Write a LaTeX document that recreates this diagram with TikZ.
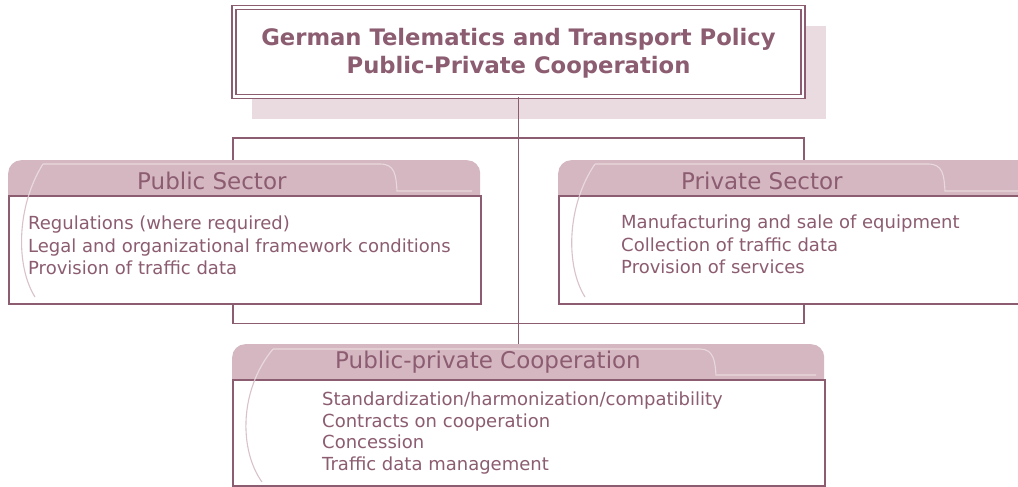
\documentclass[tikz,border=0pt]{standalone}
\usepackage{fontspec}
\setmainfont{DejaVu Sans}
\definecolor{mauve}{RGB}{140,92,112}
\definecolor{headfill}{RGB}{213,183,193}
\definecolor{shadowc}{RGB}{234,219,224}
\definecolor{swoosh}{RGB}{233,217,222}
\definecolor{arcc}{RGB}{218,194,202}
\tikzset{
  topbox/.style={draw=mauve, line width=1.4pt, double=white, double distance=2.3pt, fill=white, inner sep=0pt},
  toptext/.style={align=center, text=mauve, font=\fontsize{22.7}{28}\selectfont\bfseries, inner sep=0pt},
  headshape/.style={fill=headfill, rounded corners=13pt, inner sep=0pt, anchor=north west},
  bodybox/.style={draw=mauve, line width=1.5pt, fill=white, inner sep=0pt, anchor=north west},
  headtext/.style={text=mauve, font=\fontsize{23}{26}\selectfont, anchor=west, inner sep=0pt},
  bodytext/.style={text=mauve, font=\fontsize{18}{22.5}\selectfont, align=left, anchor=base west, inner sep=0pt},
  conn/.style={draw=mauve, line width=1.7pt},
  arcline/.style={draw=arcc, line width=1.1pt},
  swline/.style={draw=swoosh, line width=1.1pt}
}
\begin{document}
\begin{tikzpicture}[x=1pt,y=-1pt]
\useasboundingbox (0,0) rectangle (1018,487);
\clip (0,0) rectangle (1018,487);
\fill[shadowc] (252,26) rectangle (826,119);
\node[topbox, minimum width=569, minimum height=89] (top) at (518.5,52) {};
\node[toptext] (toptitle) at (518.5,53.5) {German Telematics and Transport Policy\\Public-Private Cooperation};
% public sector
\node[headshape, minimum width=472, minimum height=50] (pubhead) at (8,160) {};
\node[bodybox, minimum width=472, minimum height=108] (pubbody) at (8,195) {};
\draw[arcline] (43,164) .. controls (17,205) and (15,265) .. (35,297);
\begin{scope}
\clip (8,160) rectangle (480,194.2);
\draw[swline] (43,164) .. controls (17,205) and (15,265) .. (35,297);
\end{scope}
\draw[swline] (43,164) -- (380,164) .. controls (395,164) and (396,175) .. (397,191) -- (472,191);
\node[headtext] (pubtitle) at (137,181) {Public Sector};
\node[bodytext] (publist) at (28,274.5) {Regulations (where required)\\Legal and organizational framework conditions\\Provision of traffic data};
% private sector
\node[headshape, minimum width=480, minimum height=50] (privhead) at (558,160) {};
\node[bodybox, minimum width=480, minimum height=108] (privbody) at (558,195) {};
\draw[arcline] (595,164) .. controls (567,205) and (565,265) .. (585,297);
\begin{scope}
\clip (558,160) rectangle (1018,194.2);
\draw[swline] (595,164) .. controls (567,205) and (565,265) .. (585,297);
\end{scope}
\draw[swline] (595,164) -- (928,164) .. controls (943,164) and (944,175) .. (945,191) -- (1030,191);
\node[headtext] (privtitle) at (681,181) {Private Sector};
\node[bodytext] (privlist) at (621,273.5) {Manufacturing and sale of equipment\\Collection of traffic data\\Provision of services};
% cooperation
\node[headshape, minimum width=592, minimum height=50] (coophead) at (232,344) {};
\node[bodybox, minimum width=592, minimum height=106] (coopbody) at (232,379) {};
\draw[arcline] (273,349) .. controls (239,390) and (239,450) .. (262,482);
\begin{scope}
\clip (232,344) rectangle (824,378.2);
\draw[swline] (273,349) .. controls (239,390) and (239,450) .. (262,482);
\end{scope}
\draw[swline] (273,349) -- (700,349) .. controls (714,349) and (715,362) .. (716,375) -- (816,375);
\node[headtext] (cooptitle) at (335,362) {Public-private Cooperation};
\node[bodytext, font=\fontsize{18}{21.5}\selectfont] (cooplist) at (322,470) {Standardization/harmonization/compatibility\\Contracts on cooperation\\Concession\\Traffic data management};
% connectors
\draw[conn] (top.south) -- (coophead.north -| top.south);
\draw[conn] (pubhead.north -| top.west) -- ++(0,-22) -| (privhead.north -| top.east);
\draw[conn] (pubbody.south -| top.west) -- ++(0,19) -| (privbody.south -| top.east);
\end{tikzpicture}
\end{document}
